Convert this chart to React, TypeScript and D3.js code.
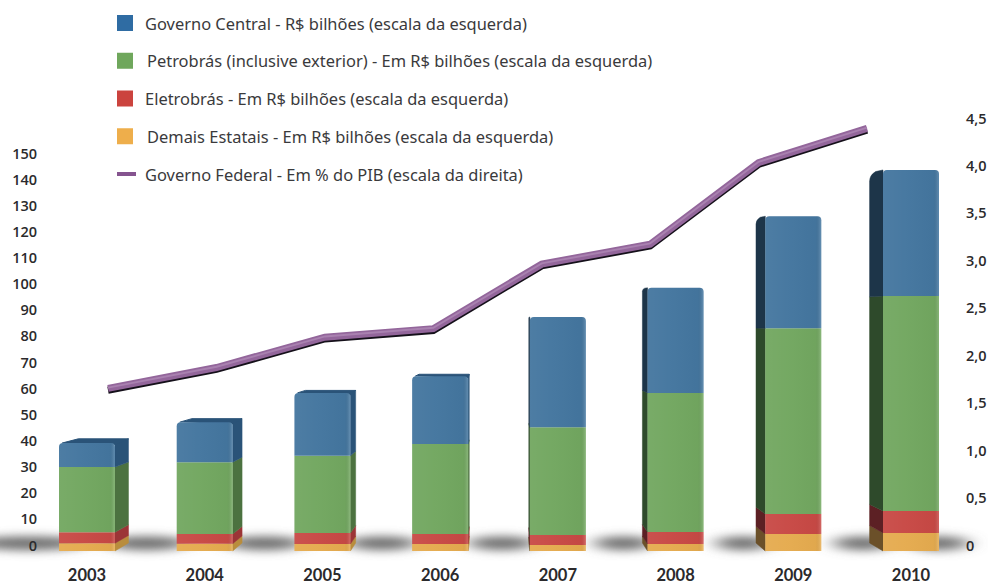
import React from 'react';
import * as d3 from 'd3';

const years = ['2003', '2004', '2005', '2006', '2007', '2008', '2009', '2010'];
// R$ bilhoes
const demais = [3, 2.8, 2.7, 2.7, 2.3, 2.7, 6.5, 6.9];
const eletrobras = [4.2, 3.7, 4.2, 3.8, 3.8, 4.6, 7.7, 8.4];
const petrobras = [24.9, 27.5, 29.5, 34.4, 41.3, 53.2, 71, 82.3];
const governoCentral = [9.2, 15.3, 24.1, 26, 42.1, 40.2, 42.9, 48.2];
// % do PIB
const governoFederal = [1.65, 1.87, 2.19, 2.28, 2.96, 3.17, 4.03, 4.39];

const leftTicks = d3.range(0, 151, 10);
const rightTicks = [0, 0.5, 1, 1.5, 2, 2.5, 3, 3.5, 4, 4.5];
const rightLabels = ['0', '0,5', '1,0', '1,5', '2,0', '2,5', '3,0', '3,5', '4,0', '4,5'];

const legendLabels = [
  'Governo Central - R$ bilhões (escala da esquerda)',
  'Petrobrás (inclusive exterior) - Em R$ bilhões (escala da esquerda)',
  'Eletrobrás - Em R$ bilhões (escala da esquerda)',
  'Demais Estatais - Em R$ bilhões (escala da esquerda)',
  'Governo Federal - Em % do PIB (escala da direita)',
];
const legendColors = ['#2f6ca3', '#6fa75c', '#cb433e', '#eeae4b', '#85548f'];
const legendTextX = [145, 147, 145, 147, 145];

const seriesKeys = ['demais', 'eletrobras', 'petrobras', 'governo'];
const frontColors = ['#e5ab4f', '#c84945', '#72a760', '#44769f'];
const sideColorsRight = ['#b98d3d', '#9c3537', '#4c7240', '#2a5378'];
const sideColorsLeft = ['#6b5029', '#5c2024', '#2e4a2b', '#1d3549'];

const table = years.map((year, i) => ({
  year,
  demais: demais[i],
  eletrobras: eletrobras[i],
  petrobras: petrobras[i],
  governo: governoCentral[i],
}));

const width = 988;
const height = 584;
const barWidth = 56;

// perspective of the bars: where the depth edges run to
const vanishX = 500;
const vanishY = 322;
const depth = 0.035;

const xBar = d3.scalePoint().domain(years).range([87, 911]);
const xLine = d3.scalePoint().domain(years).range([108, 867]);
const yBar = d3.scaleLinear().domain([0, 150]).range([551, 159]);
const yLeft = d3.scaleLinear().domain([0, 150]).range([545, 153]);
const yRight = d3.scaleLinear().domain([0, 4.5]).range([545, 118]);
const yLegend = d3.scalePoint().domain(legendLabels).range([23, 174]);

const stack = d3.stack().keys(seriesKeys)(table as any);

const back = (x: number, y: number): [number, number] => [
  x + (vanishX - x) * depth,
  y + (vanishY - y) * depth,
];
const poly = d3.line();

// front face, optionally with rounded top corners
const frontPath = (x0: number, x1: number, top: number, bottom: number, r: number) => {
  const p = d3.path();
  p.moveTo(x0, bottom);
  p.lineTo(x0, top + r);
  p.quadraticCurveTo(x0, top, x0 + r, top);
  p.lineTo(x1 - r, top);
  p.quadraticCurveTo(x1, top, x1, top + r);
  p.lineTo(x1, bottom);
  p.closePath();
  return p.toString();
};

// side face; the top one gets a rounded back corner
const sidePath = (edge: number, y0: number, y1: number, rounded: boolean) => {
  const [bx0, by0] = back(edge, y0);
  const [bx1, by1] = back(edge, y1);
  const p = d3.path();
  p.moveTo(edge, y0);
  p.lineTo(bx0, by0);
  if (rounded) {
    const r = Math.abs(bx1 - edge) * 0.45;
    p.lineTo(bx1, by1 + r);
    p.quadraticCurveTo(bx1, by1, bx1 + (edge - bx1) * 0.45, Math.min(by1, y1 + (by1 - y1) * 0.3));
  } else {
    p.lineTo(bx1, by1);
  }
  p.lineTo(edge, y1);
  p.closePath();
  return p.toString();
};

const line = d3
  .line<number>()
  .x((_, i) => xLine(years[i]) as number)
  .y((d) => yRight(d));

// floor shadow: one soft lens in each gap left of a bar, plus one right of the last bar
const shadowShift = [-30, -30, -30, -30, -28, -24, -22, -20];
const shadowRadius = [58, 42, 40, 36, 34, 30, 28, 30];

const App = () => (
  <svg
    width={width}
    height={height}
    style={{ position: 'absolute', left: 0, top: 0, background: '#fff', display: 'block' }}
  >
    <defs>
      <filter id="blur" filterUnits="userSpaceOnUse" x="-60" y="500" width="1108" height="84">
        <feGaussianBlur stdDeviation="10 5" />
      </filter>
      <filter id="soft" x="-20%" y="-300%" width="140%" height="700%">
        <feGaussianBlur stdDeviation="1" />
      </filter>
      <linearGradient id="sheen" x1="0" x2="1" y1="0" y2="0">
        <stop offset="0" stopColor="#fff" stopOpacity="0.05" />
        <stop offset="0.4" stopColor="#fff" stopOpacity="0.02" />
        <stop offset="0.9" stopColor="#000" stopOpacity="0.02" />
        <stop offset="0.985" stopColor="#fff" stopOpacity="0.14" />
        <stop offset="1" stopColor="#fff" stopOpacity="0.08" />
      </linearGradient>
    </defs>

    {/* floor shadow */}
    <g fill="#6e6e6e" filter="url(#blur)">
      {years.map((y, i) => (
        <ellipse
          key={y}
          cx={(xBar(y) as number) - barWidth / 2 + shadowShift[i]}
          cy={yBar(3)}
          rx={shadowRadius[i]}
          ry={7}
        />
      ))}
      <ellipse cx={(xBar('2010') as number) + barWidth / 2} cy={yBar(3)} rx={30} ry={7} />
    </g>

    {/* bars */}
    {table.map((d, i) => {
      const cx = xBar(d.year) as number;
      const x0 = cx - barWidth / 2;
      const x1 = cx + barWidth / 2;
      const edge = cx < vanishX ? x1 : x0;
      const sideColors = cx < vanishX ? sideColorsRight : sideColorsLeft;
      const total = yBar(stack[3][i][1]);
      const backTop = back(x0, total)[1];
      return (
        <g key={d.year}>
          {stack.map((s, k) => (
            <path
              key={seriesKeys[k]}
              d={sidePath(edge, yBar(s[i][0]), yBar(s[i][1]), k === 3 && backTop > total)}
              fill={sideColors[k]}
              stroke={sideColors[k]}
              strokeWidth={0.5}
            />
          ))}
          {backTop < total && (
            <path
              d={poly([[x0 + 3, total], back(x0 + 4, total), back(x1, total), [x1, total + 2]]) as string}
              fill="#2a5378"
              stroke="#2a5378"
              strokeLinejoin="round"
            />
          )}
          {stack.map((s, k) => (
            <path
              key={seriesKeys[k]}
              d={frontPath(x0, x1, yBar(s[i][1]), yBar(s[i][0]), k === 3 ? 4 : 0)}
              fill={frontColors[k]}
            />
          ))}
          <path d={frontPath(x0, x1, total, yBar(0), 4)} fill="url(#sheen)" />
          <line
            x1={x0 + 5}
            x2={x1 - 5}
            y1={total + 3}
            y2={total + 3}
            stroke="#b6d2e6"
            strokeWidth={1.5}
            filter="url(#soft)"
          />
        </g>
      );
    })}

    {/* Governo Federal ribbon */}
    <g fill="none" strokeLinejoin="miter">
      <path d={line(governoFederal) as string} stroke="#15101a" strokeWidth={7} transform="translate(0,1.8)" />
      <path d={line(governoFederal) as string} stroke="#93669b" strokeWidth={7} />
      <path d={line(governoFederal) as string} stroke="#a981b0" strokeWidth={2} transform="translate(0,-0.8)" />
    </g>

    {/* axes */}
    <g fontFamily="'Open Sans', sans-serif" fontSize={14.5} fontWeight={600} fill="#2b2a2c">
      {leftTicks.map((t) => (
        <text key={t} x={37} y={yLeft(t)} textAnchor="end" dominantBaseline="central">
          {t}
        </text>
      ))}
      {rightTicks.map((t, i) => (
        <text key={t} x={966} y={yRight(t)} dominantBaseline="central">
          {rightLabels[i]}
        </text>
      ))}
    </g>
    <g fontFamily="Lato, sans-serif" fontSize={16.5} fontWeight={700} fill="#2b2a2c">
      {years.map((y) => (
        <text key={y} x={xBar(y)} y={580.5} textAnchor="middle">
          {y}
        </text>
      ))}
    </g>

    {/* legend */}
    <g fontFamily="'Noto Sans', sans-serif" fontSize={16.45} fill="#3a3a3c">
      {legendLabels.map((label, i) => {
        const y = yLegend(label) as number;
        return (
          <g key={label}>
            {i < 4 ? (
              <rect x={117} y={y - 8} width={16} height={16} fill={legendColors[i]} />
            ) : (
              <rect x={117} y={y - 2} width={19} height={4} fill={legendColors[i]} />
            )}
            <text x={legendTextX[i]} y={y} dominantBaseline="central">
              {label}
            </text>
          </g>
        );
      })}
    </g>
  </svg>
);

export default App;
